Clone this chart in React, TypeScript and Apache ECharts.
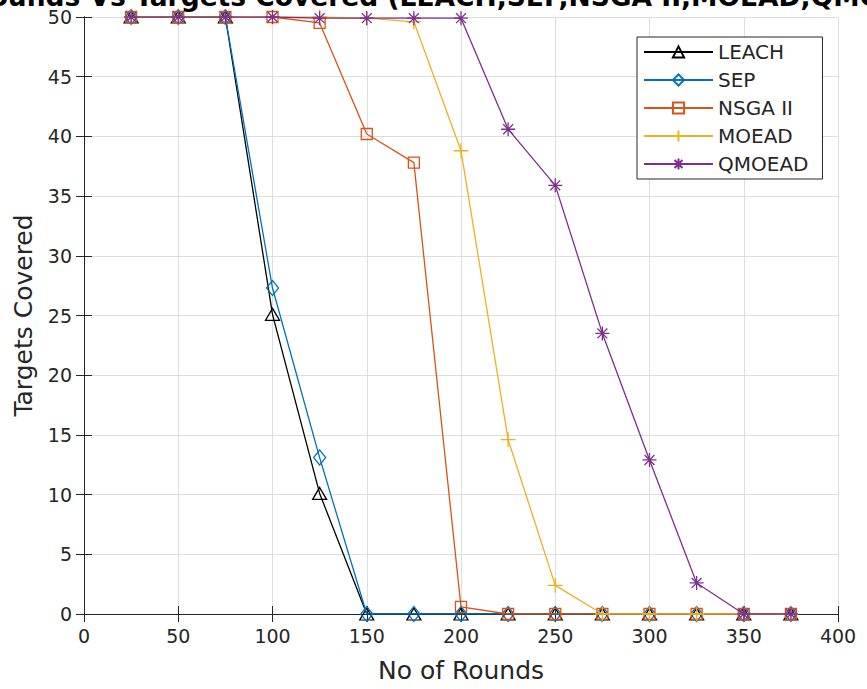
import React, { useEffect, useRef } from "react";
import * as echarts from "echarts";

const rounds = [25, 50, 75, 100, 125, 150, 175, 200, 225, 250, 275, 300, 325, 350, 375];
const leach = [50, 50, 50, 25.1, 10.1, 0, 0, 0, 0, 0, 0, 0, 0, 0, 0];
const sep = [50, 50, 50, 27.3, 13.1, 0, 0, 0, 0, 0, 0, 0, 0, 0, 0];
const nsga = [50, 50, 50, 50, 49.5, 40.2, 37.8, 0.6, 0, 0, 0, 0, 0, 0, 0];
const moead = [50, 50, 50, 50, 50, 49.9, 49.6, 38.8, 14.6, 2.4, 0, 0, 0, 0, 0];
const qmoead = [50, 50, 50, 50, 49.9, 49.9, 49.9, 49.9, 40.6, 35.9, 23.5, 12.9, 2.6, 0, 0];

const seriesNames = ["LEACH", "SEP", "NSGA II", "MOEAD", "QMOEAD"];
const seriesData = [leach, sep, nsga, moead, qmoead];
const colors = ["#000000", "#0072BD", "#D95319", "#EDB120", "#7E2F8E"];
const symbols = [
  "path://M0,-10L8.66,5L-8.66,5Z",
  "diamond",
  "rect",
  "path://M0,-10L0,10M-10,0L10,0",
  "path://M0,-10L0,10M-10,0L10,0M-7.07,-7.07L7.07,7.07M-7.07,7.07L7.07,-7.07",
];
const symbolSizes = [[14, 12], [12, 15], [11, 11], [15, 15], [14, 14]];

const titleText = "Rounds Vs Targets Covered (LEACH,SEP,NSGA II,MOEAD,QMOEAD)";
const xName = "No of Rounds";
const yName = "Targets Covered";

export default function App() {
  const ref = useRef<HTMLDivElement>(null);
  useEffect(() => {
    const chart = echarts.init(ref.current!, null, { renderer: "svg" });
    const font = "DejaVu Sans";
    const axisBase = {
      min: 0,
      splitLine: { show: true, lineStyle: { color: "#dedede", width: 1 } },
      axisLine: { show: true, lineStyle: { color: "#262626", width: 1 } },
      axisTick: { show: true, inside: true, length: 8, lineStyle: { color: "#262626" } },
    };
    chart.setOption({
      animation: false,
      backgroundColor: "#ffffff",
      textStyle: { fontFamily: font },
      graphic: [
        {
          type: "text",
          x: 462,
          y: -4,
          style: {
            text: titleText,
            fontFamily: font,
            fontWeight: "bold",
            fontSize: 26.5,
            fill: "#000000",
            textAlign: "center",
            textVerticalAlign: "middle",
            verticalAlign: "middle",
          },
          z: 100,
        },
      ],
      grid: { left: 84, right: 29, top: 17, bottom: 75, show: false },
      legend: {
        orient: "vertical",
        left: 637,
        top: 37,
        padding: [5, 14, 5, 6],
        itemWidth: 69,
        itemHeight: 14,
        itemGap: 8,
        borderColor: "#262626",
        borderWidth: 1,
        borderRadius: 0,
        backgroundColor: "#ffffff",
        textStyle: { fontFamily: font, fontSize: 20, lineHeight: 20, color: "#262626" },
        data: seriesNames,
      },
      xAxis: [
        {
          ...axisBase,
          type: "value",
          max: 400,
          interval: 50,
          position: "bottom",
          name: xName,
          nameLocation: "middle",
          nameGap: 44,
          nameTextStyle: { fontFamily: font, fontSize: 25, color: "#262626" },
          axisLabel: { fontFamily: font, fontSize: 19, color: "#262626", margin: 12 },
        },
        {
          ...axisBase,
          type: "value",
          max: 400,
          interval: 50,
          position: "top",
          splitLine: { show: false },
          axisLabel: { show: false },
        },
      ],
      yAxis: [
        {
          ...axisBase,
          type: "value",
          max: 50,
          interval: 5,
          position: "left",
          name: yName,
          nameLocation: "middle",
          nameGap: 48,
          nameTextStyle: { fontFamily: font, fontSize: 25, color: "#262626" },
          axisLabel: { fontFamily: font, fontSize: 19, color: "#262626", margin: 12 },
        },
        {
          ...axisBase,
          type: "value",
          max: 50,
          interval: 5,
          position: "right",
          splitLine: { show: false },
          axisLabel: { show: false },
        },
      ],
      series: seriesNames.map((name, i) => ({
        name,
        type: "line",
        xAxisIndex: 0,
        yAxisIndex: 0,
        data: rounds.map((r, j) => [r, seriesData[i][j]]),
        symbol: symbols[i],
        symbolSize: symbolSizes[i],
        showAllSymbol: true,
        lineStyle: { color: colors[i], width: 1.3 },
        itemStyle: { color: "transparent", borderColor: colors[i], borderWidth: 1.3 },
        emphasis: { disabled: true },
        z: 2 + i,
      })),
    });
    return () => chart.dispose();
  }, []);
  return (
    <div
      ref={ref}
      style={{ position: "absolute", left: 0, top: 0, width: 867, height: 689 }}
    />
  );
}
